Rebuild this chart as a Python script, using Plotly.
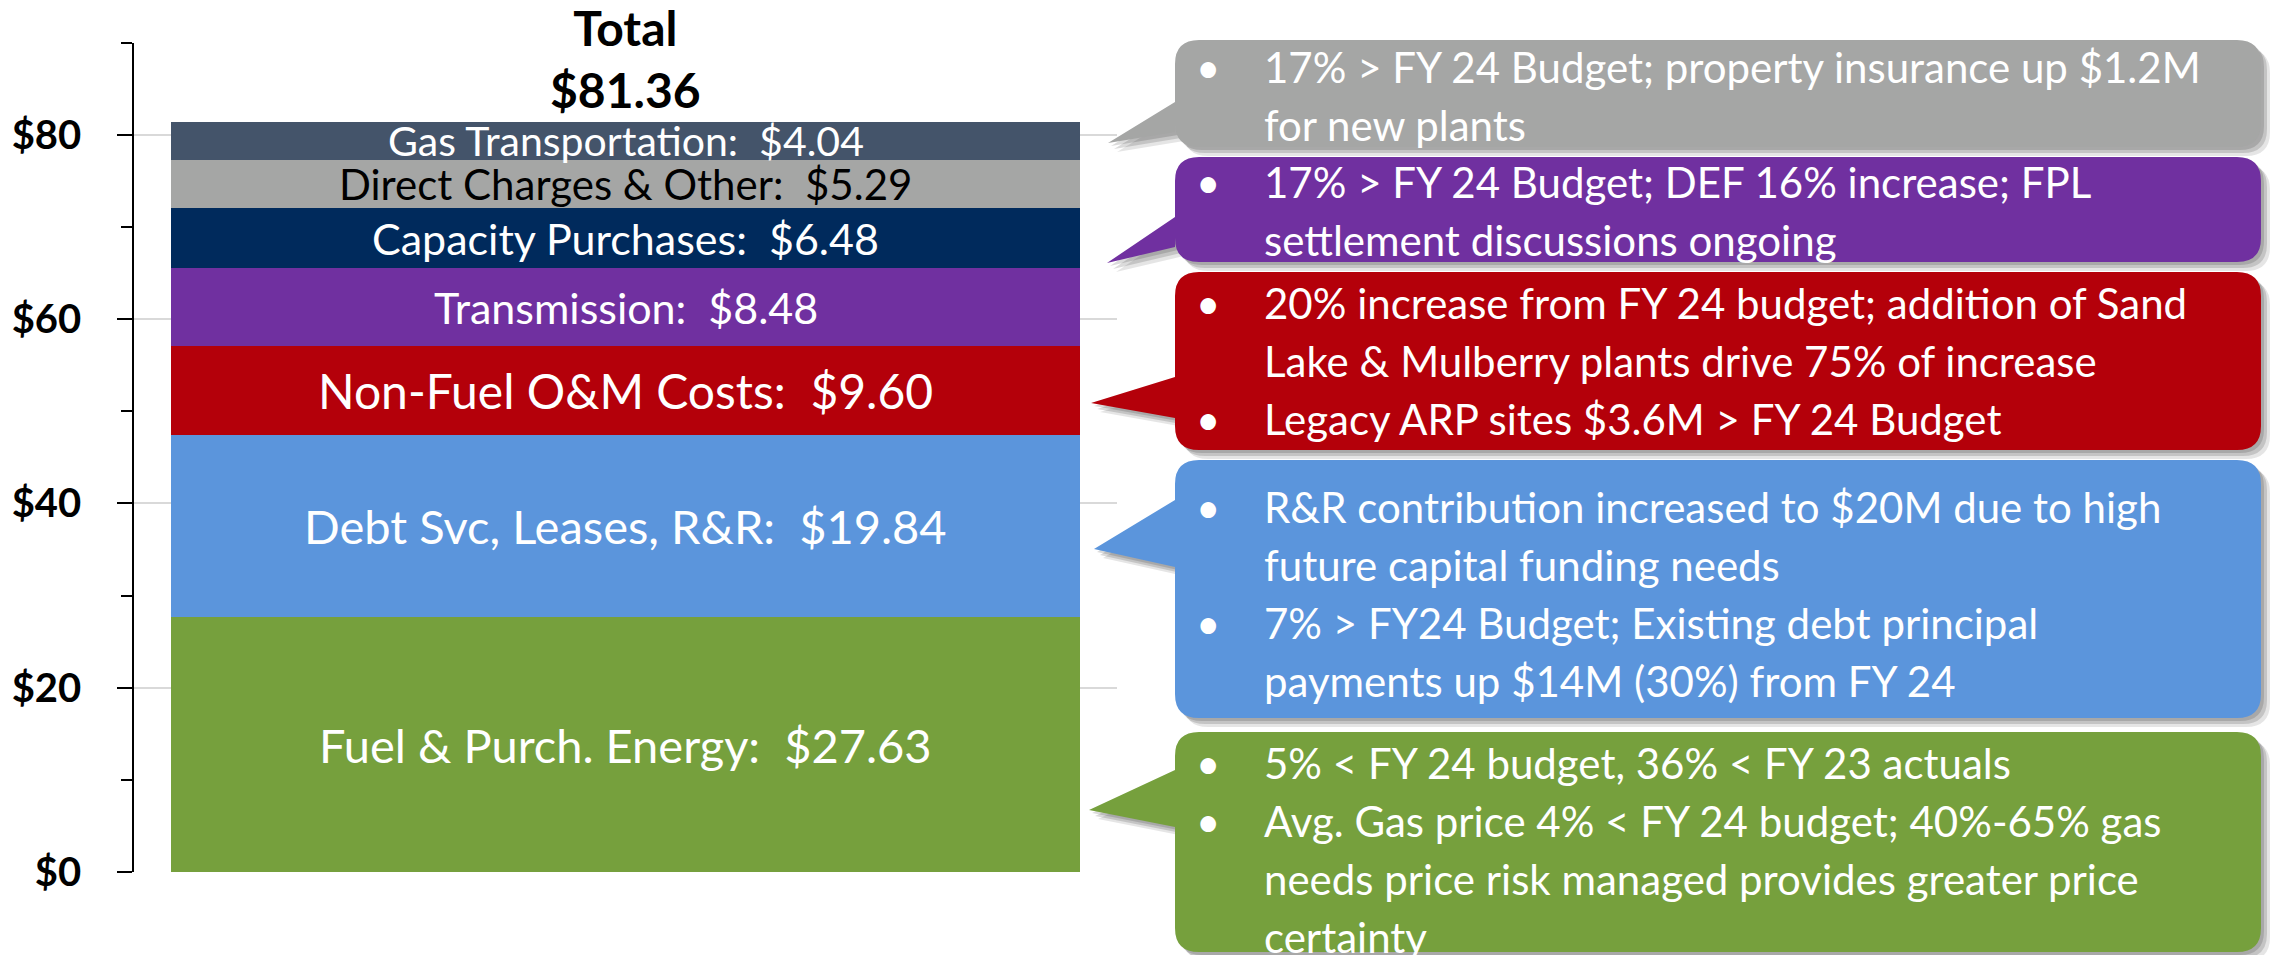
import plotly.graph_objects as go

# ---------------- data ----------------
category = ["FY 25 Budget"]
segment_names = ["Fuel & Purch. Energy", "Debt Svc, Leases, R&R", "Non-Fuel O&M Costs",
                 "Transmission", "Capacity Purchases", "Direct Charges & Other", "Gas Transportation"]
segment_values = [27.63, 19.84, 9.60, 8.48, 6.48, 5.29, 4.04]
segment_colors = ["#76A03D", "#5B95DC", "#B4000A", "#7030A0", "#002A5C", "#A5A6A5", "#44546A"]
label_colors = ["white", "white", "white", "white", "white", "black", "white"]
label_sizes = [47, 47, 48, 43, 43, 42, 41]

y_tick_values = [0, 20, 40, 60, 80]
y_tick_labels = ["$0", "$20", "$40", "$60", "$80"]

callout_colors = ["#A5A6A5", "#7030A0", "#B4000A", "#5B95DC", "#76A03D"]
callout_bullets = [
    [["17% > FY 24 Budget; property insurance up $1.2M", "for new plants"]],
    [["17% > FY 24 Budget; DEF 16% increase; FPL", "settlement discussions ongoing"]],
    [["20% increase from FY 24 budget; addition of Sand", "Lake & Mulberry plants drive 75% of increase"],
     ["Legacy ARP sites $3.6M > FY 24 Budget"]],
    [["R&R contribution increased to $20M due to high", "future capital funding needs"],
     ["7% > FY24 Budget; Existing debt principal", "payments up $14M (30%) from FY 24"]],
    [["5% < FY 24 budget, 36% < FY 23 actuals"],
     ["Avg. Gas price 4% < FY 24 budget; 40%-65% gas", "needs price risk managed provides greater price",
      "certainty"]],
]

# ---------------- layout geometry (pixels) ----------------
W, H = 2275, 955
FONT = "Lato, Carlito, Calibri, 'Open Sans', sans-serif"


def px(x):
    return x / W


def py(y):
    return 1 - y / H


def esc(s):
    return s.replace("<", "&lt;").replace(">", "&gt;").replace("  ", "\u00a0 ")


fig = go.Figure()

for name, val, col in zip(segment_names, segment_values, segment_colors):
    fig.add_trace(go.Bar(x=category, y=[val], name=name, marker=dict(color=col, line=dict(width=0)),
                         hoverinfo="name+y"))

# segment labels
base = 0.0
for name, val, tc, fs in zip(segment_names, segment_values, label_colors, label_sizes):
    fig.add_annotation(x=category[0], y=base + val / 2, xref="x", yref="y",
                       text=esc(f"{name}:  ${val:.2f}"), showarrow=False,
                       font=dict(family=FONT, size=fs, color=tc))
    base += val

total = sum(segment_values)
fig.add_annotation(x=category[0], y=total, xref="x", yref="y", yanchor="bottom", yshift=2,
                   text=f"<b>Total</b><br><b>${total:.2f}</b>", showarrow=False,
                   font=dict(family=FONT, size=48, color="black"))

# ---------------- callouts ----------------
boxes = [
    # L, R, T, B, base_top, base_bot, tip_x, tip_y, first_line_y
    (1175, 2261, 40, 147, 102, 132, 1108, 143, 67),
    (1175, 2261, 157, 262, 217, 247, 1107, 263, 182),
    (1175, 2261, 272, 450, 377, 418, 1091, 403, 303),
    (1175, 2261, 460, 718, 500, 567, 1094, 549, 507),
    (1175, 2261, 732, 952, 770, 827, 1089, 810, 763),
]


def callout_path(L, R, T, B, b1, b2, tx, ty, r=24, dx=0, dy=0):
    L, R, tx = L + dx, R + dx, tx + dx
    T, B, b1, b2, ty = T + dy, B + dy, b1 + dy, b2 + dy, ty + dy
    p = f"M {px(L + r)},{py(T)} L {px(R - r)},{py(T)} Q {px(R)},{py(T)} {px(R)},{py(T + r)} "
    p += f"L {px(R)},{py(B - r)} Q {px(R)},{py(B)} {px(R - r)},{py(B)} "
    p += f"L {px(L + r)},{py(B)} Q {px(L)},{py(B)} {px(L)},{py(B - r)} "
    p += f"L {px(L)},{py(b2)} L {px(tx)},{py(ty)} L {px(L)},{py(b1)} "
    p += f"L {px(L)},{py(T + r)} Q {px(L)},{py(T)} {px(L + r)},{py(T)} Z"
    return p


LINE_H = 58
for (L, R, T, B, b1, b2, tx, ty, y0), col, bullets in zip(boxes, callout_colors, callout_bullets):
    for off, alpha in [(9, 0.10), (6, 0.14), (3, 0.14)]:
        fig.add_shape(type="path", xref="paper", yref="paper",
                      path=callout_path(L, R, T, B, b1, b2, tx, ty, dx=off, dy=off),
                      fillcolor=f"rgba(0,0,0,{alpha})", line=dict(width=0), layer="above")
    fig.add_shape(type="path", xref="paper", yref="paper",
                  path=callout_path(L, R, T, B, b1, b2, tx, ty),
                  fillcolor=col, line=dict(width=0), layer="above")
    k = 0
    for bullet in bullets:
        for j, line in enumerate(bullet):
            yy = y0 + k * LINE_H
            if j == 0:
                fig.add_annotation(x=px(1208), y=py(yy), xref="paper", yref="paper", text="•",
                                   showarrow=False, xanchor="center", yanchor="middle",
                                   font=dict(family=FONT, size=42, color="white"))
            fig.add_annotation(x=px(1262), y=py(yy), xref="paper", yref="paper", text=esc(line),
                               showarrow=False, xanchor="left", yanchor="middle",
                               font=dict(family=FONT, size=42, color="white"))
            k += 1

fig.update_layout(
    width=W, height=H,
    autosize=False,
    margin=dict(l=0, r=0, t=0, b=0, pad=0, autoexpand=False),
    barmode="stack",
    bargap=0.076,
    showlegend=False,
    paper_bgcolor="white",
    plot_bgcolor="white",
    font=dict(family=FONT),
    xaxis=dict(domain=[px(134), px(1117)], showticklabels=False, ticks="", showgrid=False,
               zeroline=False, showline=False, range=[-0.5, 0.5], automargin=False),
    yaxis=dict(domain=[py(872), py(42.7)], range=[0, 90], tickvals=y_tick_values, ticktext=y_tick_labels,
               tickfont=dict(family=FONT, size=40, color="black", weight="bold"),
               ticks="outside", ticklen=15, tickwidth=2, tickcolor="black",
               ticklabelstandoff=28, automargin=False,
               minor=dict(dtick=10, tick0=0, ticks="outside", ticklen=11, tickwidth=1.5,
                          tickcolor="black", showgrid=False),
               showline=True, linecolor="black", linewidth=1.5,
               showgrid=True, gridcolor="#D9D9D9", gridwidth=2, zeroline=False),
)

fig.write_html("out.html", config={"displayModeBar": False},
               post_script="document.body.style.margin='0';document.body.style.overflow='hidden';")
